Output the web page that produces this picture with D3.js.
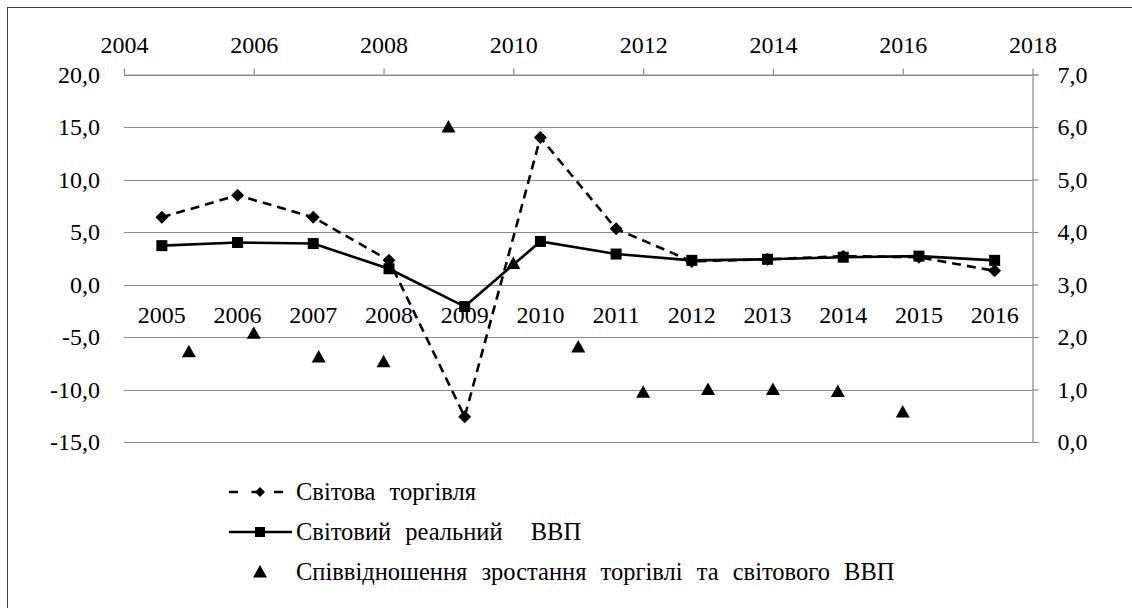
<!DOCTYPE html>
<html>
<head>
<meta charset="utf-8">
<script src="https://cdn.jsdelivr.net/npm/d3@7"></script>
</head>
<body style="margin:0; background:#fff">
<svg width="1132" height="608"></svg>
<script>
// categories (bottom, primary axis)
const categories = ["2005", "2006", "2007", "2008", "2009", "2010", "2011", "2012", "2013", "2014", "2015", "2016"];
// Світова торгівля, %
const tradeGrowth = [6.4, 8.5, 6.4, 2.3, -12.6, 14.0, 5.3, 2.2, 2.4, 2.7, 2.6, 1.3];
// Світовий реальний ВВП, %
const gdpGrowth = [3.7, 4.0, 3.9, 1.5, -2.1, 4.1, 2.9, 2.3, 2.4, 2.6, 2.7, 2.3];
// ratio, on the secondary axes
const ratioYears = [2005, 2006, 2007, 2008, 2009, 2010, 2011, 2012, 2013, 2014, 2015, 2016];
const ratioValues = [1.72, 2.07, 1.62, 1.53, 6.0, 3.4, 1.81, 0.95, 1.0, 1.0, 0.96, 0.57];

const leftTicks = [-15, -10, -5, 0, 5, 10, 15, 20];
const rightTicks = [0, 1, 2, 3, 4, 5, 6, 7];
const topTicks = [2004, 2006, 2008, 2010, 2012, 2014, 2016, 2018];

const legendLabels = ["Світова торгівля", "Світовий реальний  ВВП", "Співвідношення зростання торгівлі та світового ВВП"];

const plotL = 124, plotR = 1032.5, plotT = 74.5, plotB = 442;
const gridColor = "#8a8a8a";

const loc = d3.formatLocale({decimal: ",", thousands: " ", grouping: [3], currency: ["", ""], minus: "-"});
const fmt = loc.format(".1f");

const svg = d3.select("svg");

// outer frame (cut off at the right and bottom)
svg.append("rect")
  .attr("x", 7.5).attr("y", 7.5)
  .attr("width", 1140).attr("height", 620)
  .attr("fill", "none").attr("stroke", "#404040").attr("stroke-width", 1);

const x = d3.scaleBand().domain(categories).range([plotL, plotR]);
const y = d3.scaleLinear().domain([-15, 20]).range([plotB, plotT]);
const x2 = d3.scaleLinear().domain([2004, 2018]).range([plotL, plotR]);
const y2 = d3.scaleLinear().domain([0, 7]).range([plotB, plotT]);

// gridlines
svg.append("g")
  .selectAll("line")
  .data(leftTicks)
  .join("line")
  .attr("x1", plotL).attr("x2", plotR)
  .attr("y1", d => Math.round(y(d)) + 0.5).attr("y2", d => Math.round(y(d)) + 0.5)
  .attr("stroke", gridColor).attr("stroke-width", 1.2);

// left axis (labels only)
const gl = svg.append("g")
  .attr("transform", `translate(${plotL},0)`)
  .call(d3.axisLeft(y).tickValues(leftTicks).tickFormat(fmt).tickSize(0).tickPadding(24));
gl.select(".domain").remove();

// right axis
const gr = svg.append("g")
  .attr("transform", `translate(${plotR},0)`)
  .call(d3.axisRight(y2).tickValues(rightTicks).tickFormat(fmt).tickSize(6).tickPadding(19));
gr.select(".domain").attr("stroke", gridColor).attr("stroke-width", 1.2);
gr.selectAll(".tick line").attr("stroke", gridColor).attr("stroke-width", 1.2);

// top axis
const gt = svg.append("g")
  .attr("transform", `translate(0,${plotT})`)
  .call(d3.axisTop(x2).tickValues(topTicks).tickFormat(d3.format("d")).tickSize(6).tickSizeOuter(0).tickPadding(16));
gt.select(".domain").attr("stroke", gridColor).attr("stroke-width", 1.2);
gt.selectAll(".tick line").attr("stroke", gridColor).attr("stroke-width", 1.2);

// category axis along zero
const gb = svg.append("g")
  .attr("transform", `translate(0,${y(0)})`)
  .call(d3.axisBottom(x).tickSize(0).tickPadding(21));
gb.select(".domain").remove();

const cx = d => x(d) + x.bandwidth() / 2;

// trade line
svg.append("path")
  .datum(tradeGrowth)
  .attr("fill", "none").attr("stroke", "#000").attr("stroke-width", 2.6)
  .attr("stroke-dasharray", "9,6")
  .attr("d", d3.line().x((d, i) => cx(categories[i])).y(d => y(d)));

// gdp line
svg.append("path")
  .datum(gdpGrowth)
  .attr("fill", "none").attr("stroke", "#000").attr("stroke-width", 2.6)
  .attr("d", d3.line().x((d, i) => cx(categories[i])).y(d => y(d)));

const diamond = s => `M0,${-s}L${s},0L0,${s}L${-s},0Z`;
const triangle = "M0,-7L7,5.5L-7,5.5Z";

svg.append("g").selectAll("path")
  .data(tradeGrowth)
  .join("path")
  .attr("transform", (d, i) => `translate(${cx(categories[i])},${y(d)})`)
  .attr("d", diamond(6.5)).attr("fill", "#000");

svg.append("g").selectAll("rect")
  .data(gdpGrowth)
  .join("rect")
  .attr("x", (d, i) => cx(categories[i]) - 5.5).attr("y", d => y(d) - 5.5)
  .attr("width", 11).attr("height", 11).attr("fill", "#000");

svg.append("g").selectAll("path")
  .data(ratioValues)
  .join("path")
  .attr("transform", (d, i) => `translate(${x2(ratioYears[i])},${y2(d)})`)
  .attr("d", triangle).attr("fill", "#000");

// all axis text in Times-like serif, set inline
svg.selectAll("text")
  .style("font-family", '"Liberation Serif"')
  .style("font-size", "24px")
  .attr("fill", "#000");

// legend
const legendY = [492, 532, 572];
const lg = svg.append("g");
const sx0 = 229, sx1 = 292, smid = 260;

lg.append("line").attr("x1", sx0).attr("x2", sx1).attr("y1", legendY[0]).attr("y2", legendY[0])
  .attr("stroke", "#000").attr("stroke-width", 2.6).attr("stroke-dasharray", "9,13.5");
lg.append("path").attr("transform", `translate(${smid},${legendY[0]})`).attr("d", diamond(5)).attr("fill", "#000");

lg.append("line").attr("x1", sx0).attr("x2", sx1).attr("y1", legendY[1]).attr("y2", legendY[1])
  .attr("stroke", "#000").attr("stroke-width", 2.6);
lg.append("rect").attr("x", smid - 5).attr("y", legendY[1] - 5).attr("width", 10).attr("height", 10).attr("fill", "#000");

lg.append("path").attr("transform", `translate(${smid},${legendY[2]})`).attr("d", triangle).attr("fill", "#000");

lg.selectAll("text")
  .data(legendLabels)
  .join("text")
  .attr("x", 296).attr("y", (d, i) => legendY[i]).attr("dy", "0.33em")
  .style("white-space", "pre")
  .style("font-family", '"Liberation Serif"')
  .style("font-size", "24.5px")
  .style("word-spacing", "8px")
  .attr("fill", "#000")
  .text(d => d);
</script>
</body>
</html>
